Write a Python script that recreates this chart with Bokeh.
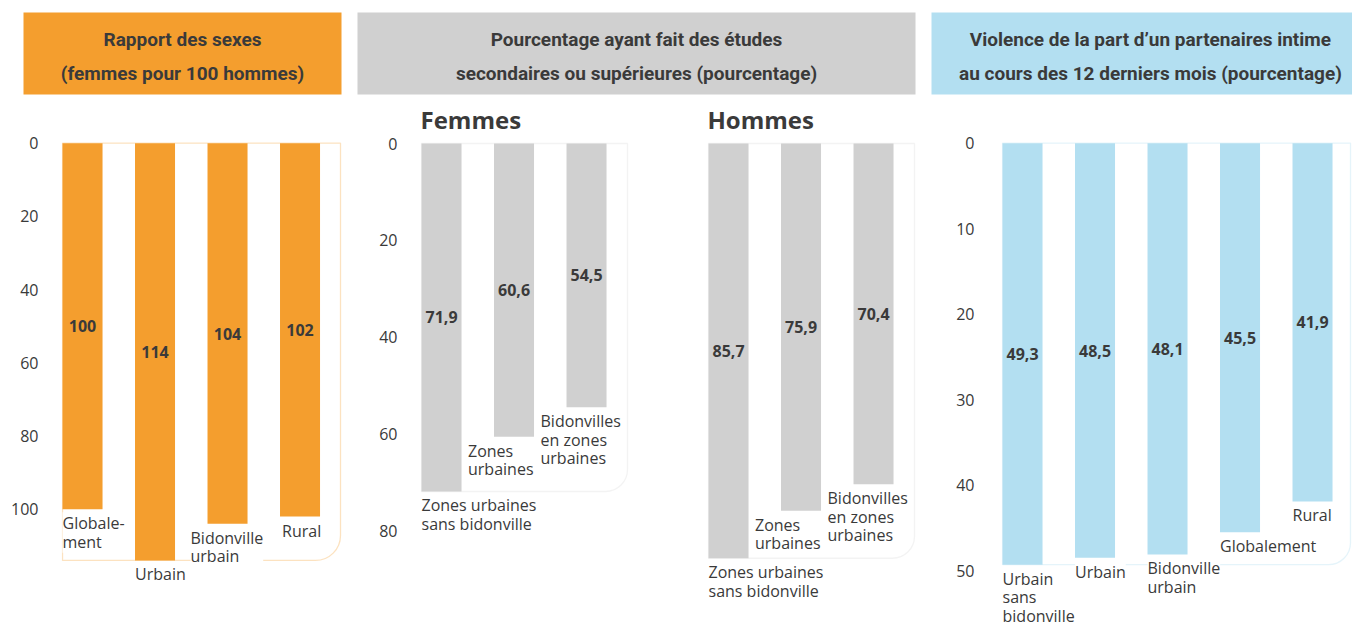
from bokeh.plotting import figure
from bokeh.layouts import row, column
from bokeh.models import Range1d, FixedTicker, BoxAnnotation, ColumnDataSource
from bokeh.core.properties import value
from bokeh.embed import file_html
from bokeh.resources import INLINE

# ---------------- data ----------------
sex_cats = ["Globale-\nment", "Urbain", "Bidonville\nurbain", "Rural"]
sex_ratio = [100, 114, 104, 102]
sex_ticks = [0, 20, 40, 60, 80, 100]

edu_cats = ["Zones urbaines\nsans bidonville", "Zones\nurbaines", "Bidonvilles\nen zones\nurbaines"]
edu_women = [71.9, 60.6, 54.5]
edu_men = [85.7, 75.9, 70.4]
edu_ticks = [0, 20, 40, 60, 80]

vio_cats = ["Urbain\nsans\nbidonville", "Urbain", "Bidonville\nurbain", "Globalement", "Rural"]
vio_vals = [49.3, 48.5, 48.1, 45.5, 41.9]
vio_ticks = [0, 10, 20, 30, 40, 50]

titles = [
    "Rapport des sexes\n(femmes pour 100 hommes)",
    "Pourcentage ayant fait des études\nsecondaires ou supérieures (pourcentage)",
    "Violence de la part d\u2019un partenaires intime\nau cours des 12 derniers mois (pourcentage)",
]

# ---------------- style / layout constants ----------------
ORANGE = "#F49E2E"
GRAY = "#D0D0D0"
GRAY_FRAME = "#D8D8D8"
BLUE = "#B3DFF1"
BLUE_FRAME = "#A9DAEF"
TXT = "#3A3A3A"
FONT = "Open Sans"
HFONT = "Roboto"
PX_PER_CAT = 72.5
BAR_W = 0.552
X0 = -0.29

# horizontal pixel shifts of the category labels (style only)
sex_label_dx = [0, 0, -17, 2]
edu_label_dx = [0, -26, -26]
vio_label_dx = [0, 0, 0, 0, 0]


def fmt(v):
    return str(v) if float(v).is_integer() else f"{v:.1f}".replace(".", ",")


def header(text, color, width, left, right, cx):
    p = figure(width=width, height=98, x_range=Range1d(0, 1), y_range=Range1d(0, 1),
               toolbar_location=None, output_backend="svg",
               x_axis_location=None, y_axis_location=None,
               min_border_left=left, min_border_right=right,
               min_border_top=12, min_border_bottom=4)
    p.frame_align = False
    p.grid.visible = False
    p.outline_line_color = None
    p.background_fill_color = color
    p.border_fill_color = "white"
    p.text(x=[cx], y=[0.465], text=[text], text_align="center", text_baseline="middle",
           text_font=value(HFONT), text_font_style="bold", text_font_size="19px",
           text_color=TXT, text_line_height=1.45)
    return p


def chart(cats, vals, dx, ticks, ytop, ybot, width, left, right, box_right,
          bar_color, frame_color, axis=True, title=None, standoff=23, radius=22):
    frame_w = width - left - right
    x_end = X0 + frame_w / PX_PER_CAT
    kw = {}
    if title:
        kw["title"] = title
    p = figure(width=width, height=528, x_range=Range1d(X0, x_end),
               y_range=Range1d(start=ybot, end=ytop),
               toolbar_location=None, output_backend="svg",
               x_axis_location=None, y_axis_location="left" if axis else None,
               min_border_left=left, min_border_right=right,
               min_border_top=38, min_border_bottom=0, **kw)
    p.frame_align = False
    p.grid.visible = False
    p.outline_line_color = None
    p.background_fill_color = "white"
    p.border_fill_color = "white"
    if title:
        p.title.text_font = FONT
        p.title.text_font_size = "24px"
        p.title.text_font_style = "bold"
        p.title.text_color = TXT
        p.title.align = "left"
        p.title.standoff = 2
    if axis:
        ax = p.yaxis[0]
        ax.ticker = FixedTicker(ticks=ticks)
        ax.axis_line_color = None
        ax.major_tick_line_color = None
        ax.minor_tick_line_color = None
        ax.major_tick_out = 0
        ax.major_tick_in = 0
        ax.major_label_standoff = standoff
        ax.major_label_text_font = FONT
        ax.major_label_text_font_size = "16px"
        ax.major_label_text_color = TXT

    xs = list(range(len(vals)))
    box = BoxAnnotation(left=-BAR_W / 2, right=box_right, top=0, bottom=max(vals),
                        fill_alpha=0, line_color=frame_color, line_width=1.3,
                        border_radius=(0, 0, radius, 0), level="underlay")
    p.add_layout(box)
    p.vbar(x=xs, top=[0] * len(vals), bottom=vals, width=BAR_W,
           fill_color=bar_color, line_color=None)
    p.text(x=xs, y=[v / 2 for v in vals], text=[fmt(v) for v in vals],
           text_align="center", text_baseline="middle",
           text_font=value(FONT), text_font_style="bold", text_font_size="16px",
           text_color=TXT)
    src = ColumnDataSource(dict(x=[x - BAR_W / 2 for x in xs], y=vals, text=cats, dx=dx))
    p.text(x="x", y="y", text="text", x_offset="dx", source=src,
           text_align="left", text_baseline="top", y_offset=3,
           text_font=value(FONT), text_font_size="16px", text_color=TXT,
           text_line_height=0.84, background_fill_color="white")
    return p


h1 = header(titles[0], ORANGE, 349, 23, 8, 0.5)
h2 = header(titles[1], GRAY, 574, 8, 8, 0.5)
h3 = header(titles[2], BLUE, 429, 8, 0, 0.52)

c1 = chart(sex_cats, sex_ratio, sex_label_dx, sex_ticks, -1.83, 132.05, 349, 61, 4,
           X0 + (340 - 61) / PX_PER_CAT, ORANGE, ORANGE, radius=25)
cf = chart(edu_cats, edu_women, edu_label_dx, edu_ticks, -1.45, 99.8, 287, 71, 4,
           X0 + (627 - 420) / PX_PER_CAT, GRAY, GRAY_FRAME, title="Femmes")
ch = chart(edu_cats, edu_men, edu_label_dx, edu_ticks, -1.45, 99.8, 287, 71, 4,
           X0 + (627 - 420) / PX_PER_CAT, GRAY, GRAY_FRAME, axis=False, title="Hommes")
c3 = chart(vio_cats, vio_vals, vio_label_dx, vio_ticks, -0.78, 56.53, 429, 78, 0,
           X0 + (1350 - 1001) / PX_PER_CAT, BLUE, BLUE_FRAME, standoff=27)

layout = row(column(h1, c1), column(h2, row(cf, ch)), column(h3, c3))

open("out.html", "w").write(file_html(layout, INLINE))
